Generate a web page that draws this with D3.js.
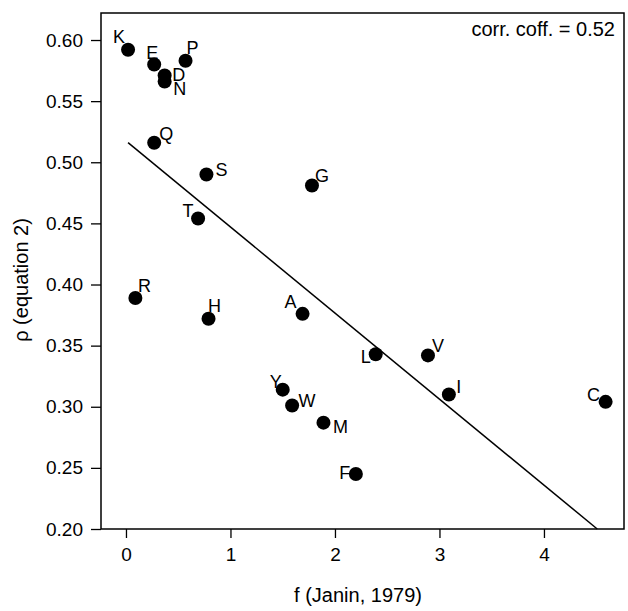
<!DOCTYPE html>
<html>
<head>
<meta charset="utf-8">
<script src="https://cdn.jsdelivr.net/npm/d3@7"></script>
<style>
  body { margin: 0; background: #fff; }
  text { font-family: "Liberation Sans", Arial, Helvetica, sans-serif; fill: #000; }
</style>
</head>
<body>
<div id="chart"></div>
<script>
// amino acid codes, f (Janin, 1979) and p (equation 2)
const codes   = ["K", "E", "P", "D", "N", "Q", "S", "G", "T", "R", "H", "A", "L", "V", "I", "C", "Y", "W", "M", "F"];
const fValues = [0.02, 0.27, 0.57, 0.37, 0.37, 0.27, 0.77, 1.78, 0.69, 0.09, 0.79, 1.69, 2.39, 2.89, 3.09, 4.59, 1.50, 1.59, 1.89, 2.20];
const pValues = [0.592, 0.580, 0.583, 0.571, 0.566, 0.516, 0.490, 0.481, 0.454, 0.389, 0.372, 0.376, 0.343, 0.342, 0.310, 0.304, 0.314, 0.301, 0.287, 0.245];

// fitted line end points
const lineF = [0.02, 4.51];
const lineP = [0.516, 0.20];

const xTicks = [0, 1, 2, 3, 4];
const yTicks = [0.20, 0.25, 0.30, 0.35, 0.40, 0.45, 0.50, 0.55, 0.60];
const corrText = "corr. coff. = 0.52";

// where each letter sits relative to its dot (px)
const labelOffset = {
  K: [-9, -13], E: [-2, -12], P: [7, -13], D: [14, -1], N: [15, 7],
  Q: [12, -9], S: [15, -5], G: [10, -10], T: [-10, -8], R: [9, -12],
  H: [6, -13], A: [-12, -12], L: [-10, 2], V: [10, -10], I: [10, -8],
  C: [-12, -7], Y: [-7, -8], W: [15, -5], M: [17, 4], F: [-11, -1]
};

const width = 628, height = 611;
const plotLeft = 101, plotRight = 624, plotTop = 13, plotBottom = 529;

const svg = d3.select("#chart")
  .append("svg")
    .attr("width", width)
    .attr("height", height);

const x = d3.scaleLinear().domain([-0.239, 4.766]).range([plotLeft, plotRight]);
const y = d3.scaleLinear().domain([0.2, 0.6221]).range([plotBottom, plotTop]);

// frame
svg.append("rect")
  .attr("x", plotLeft)
  .attr("y", plotTop)
  .attr("width", plotRight - plotLeft)
  .attr("height", plotBottom - plotTop)
  .attr("fill", "none")
  .attr("stroke", "#000")
  .attr("stroke-width", 1.5);

const yAxis = svg.append("g")
  .attr("transform", "translate(" + plotLeft + ",0)")
  .call(d3.axisLeft(y).tickValues(yTicks).tickSize(10).tickPadding(8).tickFormat(d3.format(".2f")));

const xAxis = svg.append("g")
  .attr("transform", "translate(0," + plotBottom + ")")
  .call(d3.axisBottom(x).tickValues(xTicks).tickSize(9).tickPadding(10).tickFormat(d3.format("d")));

[xAxis, yAxis].forEach(function(g) {
  g.select(".domain").remove();
  g.selectAll(".tick line").attr("stroke", "#000").attr("stroke-width", 1.3);
  g.selectAll(".tick text")
    .style("font-family", "'Liberation Sans', Arial, Helvetica, sans-serif")
    .style("font-size", "19px")
    .attr("fill", "#000");
});

// axis titles
svg.append("text")
  .attr("x", 358)
  .attr("y", 602)
  .attr("text-anchor", "middle")
  .attr("font-size", 20)
  .text("f (Janin, 1979)");

svg.append("text")
  .attr("transform", "translate(28,280) rotate(-90)")
  .attr("text-anchor", "middle")
  .attr("font-size", 20)
  .text("ρ (equation 2)");

// regression line
svg.append("line")
  .attr("x1", x(lineF[0]))
  .attr("y1", y(lineP[0]))
  .attr("x2", x(lineF[1]))
  .attr("y2", y(lineP[1]))
  .attr("stroke", "#000")
  .attr("stroke-width", 1.5);

const points = codes.map(function(c, i) { return { code: c, f: fValues[i], p: pValues[i] }; });

svg.selectAll("circle.pt")
  .data(points).enter()
  .append("circle")
    .attr("class", "pt")
    .attr("cx", function(d) { return x(d.f); })
    .attr("cy", function(d) { return y(d.p); })
    .attr("r", 7)
    .attr("fill", "#000");

svg.selectAll("text.lbl")
  .data(points).enter()
  .append("text")
    .attr("class", "lbl")
    .attr("x", function(d) { return x(d.f) + labelOffset[d.code][0]; })
    .attr("y", function(d) { return y(d.p) + labelOffset[d.code][1] + 18 * 0.36; })
    .attr("text-anchor", "middle")
    .attr("font-size", 18)
    .text(function(d) { return d.code; });

svg.append("text")
  .attr("x", 615)
  .attr("y", 36)
  .attr("text-anchor", "end")
  .attr("font-size", 20)
  .text(corrText);
</script>
</body>
</html>
